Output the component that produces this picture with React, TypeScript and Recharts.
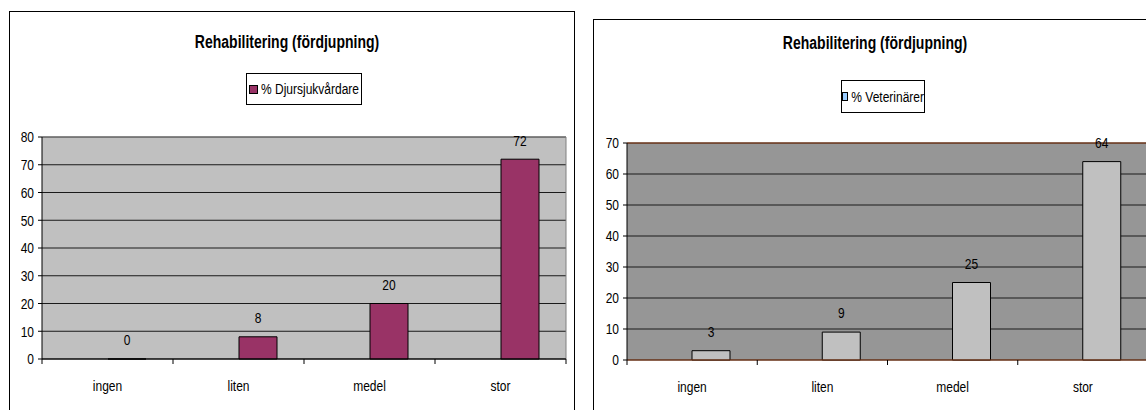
import React from "react";
import {
  BarChart,
  Bar,
  XAxis,
  YAxis,
  CartesianGrid,
  ReferenceLine,
  LabelList,
} from "recharts";

const categories = ["ingen", "liten", "medel", "stor"];
const djursjukvardare = [0, 8, 20, 72];
const veterinarer = [3, 9, 25, 64];
const leftTicks = [0, 10, 20, 30, 40, 50, 60, 70, 80];
const rightTicks = [0, 10, 20, 30, 40, 50, 60, 70];

const title = "Rehabilitering (fördjupning)";
const FONT = '"Liberation Sans", Arial, sans-serif';
const STRETCH = 1.27; // the source text is drawn taller than normal

function buildData(values: number[]) {
  return categories.map((cat, i) => ({ cat, blank: null, value: values[i] }));
}

// text stretched vertically around its middle
function TallText({ x, y, anchor, children }: any) {
  return (
    <text
      transform={`translate(${x},${y}) scale(1,${STRETCH})`}
      textAnchor={anchor}
      dy="0.35em"
      fontSize={12}
      fill="#000"
    >
      {children}
    </text>
  );
}

function CategoryTick(props: any) {
  const { x, y, payload, index, visibleTicksCount, halfBand } = props;
  const off = payload && typeof payload.offset === "number" && payload.offset > 0 ? payload.offset : halfBand;
  const last = index === visibleTicksCount - 1;
  return (
    <g>
      <line x1={x - off} y1={y} x2={x - off} y2={y + 5} stroke="#000" />
      {last && <line x1={x + off} y1={y} x2={x + off} y2={y + 5} stroke="#000" />}
      <TallText x={x} y={y + 27} anchor="middle">
        {payload.value}
      </TallText>
    </g>
  );
}

function ValueTick(props: any) {
  const { x, y, payload } = props;
  return (
    <TallText x={x} y={y} anchor="end">
      {payload.value}
    </TallText>
  );
}

function ValueLabel(props: any) {
  const vb = props.viewBox || {};
  const x = props.x ?? vb.x;
  const y = props.y ?? vb.y;
  const w = props.width ?? vb.width ?? 0;
  if (x == null || y == null) return null;
  return (
    <TallText x={x + w / 2} y={y - 19} anchor="middle">
      {props.value}
    </TallText>
  );
}

interface PanelProps {
  left: number;
  top: number;
  frameWidth: number;
  chartWidth: number;
  chartHeight: number;
  margin: { top: number; right: number; bottom: number; left: number };
  yWidth: number;
  values: number[];
  ticks: number[];
  seriesName: string;
  barFill: string;
  markerFill: string;
  plotFill: string;
  borderColor: string;
  axisColor: string;
  titleX: number;
  titleY: number;
  legendBox: { left: number; top: number; width: number; height: number };
}

function Panel(p: PanelProps) {
  const data = buildData(p.values);
  const yMax = p.ticks[p.ticks.length - 1];
  const plotWidth = p.chartWidth - p.margin.left - p.margin.right - p.yWidth;
  const halfBand = plotWidth / categories.length / 2;
  return (
    <div
      style={{
        position: "absolute",
        left: p.left,
        top: p.top,
        width: p.frameWidth,
        height: 430,
        border: "1px solid #000",
        background: "#fff",
        boxSizing: "border-box",
      }}
    >
      <div
        style={{
          position: "absolute",
          left: p.titleX,
          top: p.titleY,
          transform: `translate(-50%, -50%) scale(1, ${STRETCH})`,
          fontWeight: "bold",
          fontSize: 14,
          whiteSpace: "nowrap",
        }}
      >
        {title}
      </div>
      <div
        style={{
          position: "absolute",
          left: p.legendBox.left,
          top: p.legendBox.top,
          width: p.legendBox.width,
          height: p.legendBox.height,
          border: "1px solid #000",
          boxSizing: "border-box",
          display: "flex",
          alignItems: "center",
          justifyContent: "center",
          fontSize: 12,
          whiteSpace: "nowrap",
        }}
      >
        <span
          style={{
            display: "inline-block",
            width: 7,
            height: 7,
            background: p.markerFill,
            border: "1px solid #000",
            marginRight: 3,
          }}
        />
        <span style={{ display: "inline-block", transform: `scale(1, ${STRETCH})` }}>{p.seriesName}</span>
      </div>
      <div style={{ position: "absolute", left: 0, top: 0 }}>
        <BarChart
          width={p.chartWidth}
          height={p.chartHeight}
          data={data}
          margin={p.margin}
          barSize={38}
          barGap={0}
        >
          <CartesianGrid
            horizontal
            vertical={false}
            fill={p.plotFill}
            stroke="#1a1a1a"
            horizontalValues={p.ticks}
          />
          <CartesianGrid
            horizontal={false}
            vertical
            stroke={p.borderColor}
            verticalCoordinatesGenerator={({ offset }: any) => [offset.left + offset.width]}
          />
          <ReferenceLine y={yMax} stroke={p.borderColor} />
          <XAxis
            dataKey="cat"
            stroke={p.axisColor}
            tickLine={false}
            tickSize={0}
            tickMargin={0}
            height={40}
            interval={0}
            tick={<CategoryTick halfBand={halfBand} />}
          />
          <YAxis
            domain={[0, yMax]}
            ticks={p.ticks}
            interval={0}
            width={p.yWidth}
            stroke="#000"
            tickSize={4}
            tickMargin={4}
            tick={<ValueTick />}
          />
          <Bar dataKey="blank" fill="none" isAnimationActive={false} />
          <Bar
            dataKey="value"
            name={p.seriesName}
            fill={p.barFill}
            stroke="#000"
            strokeWidth={1}
            minPointSize={0.01}
            isAnimationActive={false}
          >
            <LabelList dataKey="value" content={<ValueLabel />} />
          </Bar>
        </BarChart>
      </div>
    </div>
  );
}

export default function App() {
  return (
    <div
      style={{
        position: "fixed",
        left: 0,
        top: 0,
        width: 1146,
        height: 410,
        overflow: "hidden",
        background: "#fff",
        fontFamily: FONT,
        color: "#000",
      }}
    >
      <Panel
        left={9}
        top={11}
        frameWidth={566}
        chartWidth={564}
        chartHeight={398}
        margin={{ top: 125, right: 8, bottom: 11, left: 0 }}
        yWidth={32}
        values={djursjukvardare}
        ticks={leftTicks}
        seriesName="% Djursjukvårdare"
        barFill="#993366"
        markerFill="#993366"
        plotFill="#c0c0c0"
        borderColor="#808080"
        axisColor="#000"
        titleX={277}
        titleY={30}
        legendBox={{ left: 236, top: 61, width: 116, height: 32 }}
      />
      <Panel
        left={593}
        top={19}
        frameWidth={620}
        chartWidth={570}
        chartHeight={391}
        margin={{ top: 123, right: 16, bottom: 11, left: 0 }}
        yWidth={33}
        values={veterinarer}
        ticks={rightTicks}
        seriesName="% Veterinärer"
        barFill="#c0c0c0"
        markerFill="#99ccff"
        plotFill="#969696"
        borderColor="#8b3a13"
        axisColor="#8b3a13"
        titleX={281}
        titleY={23}
        legendBox={{ left: 247, top: 60, width: 84, height: 33 }}
      />
    </div>
  );
}
